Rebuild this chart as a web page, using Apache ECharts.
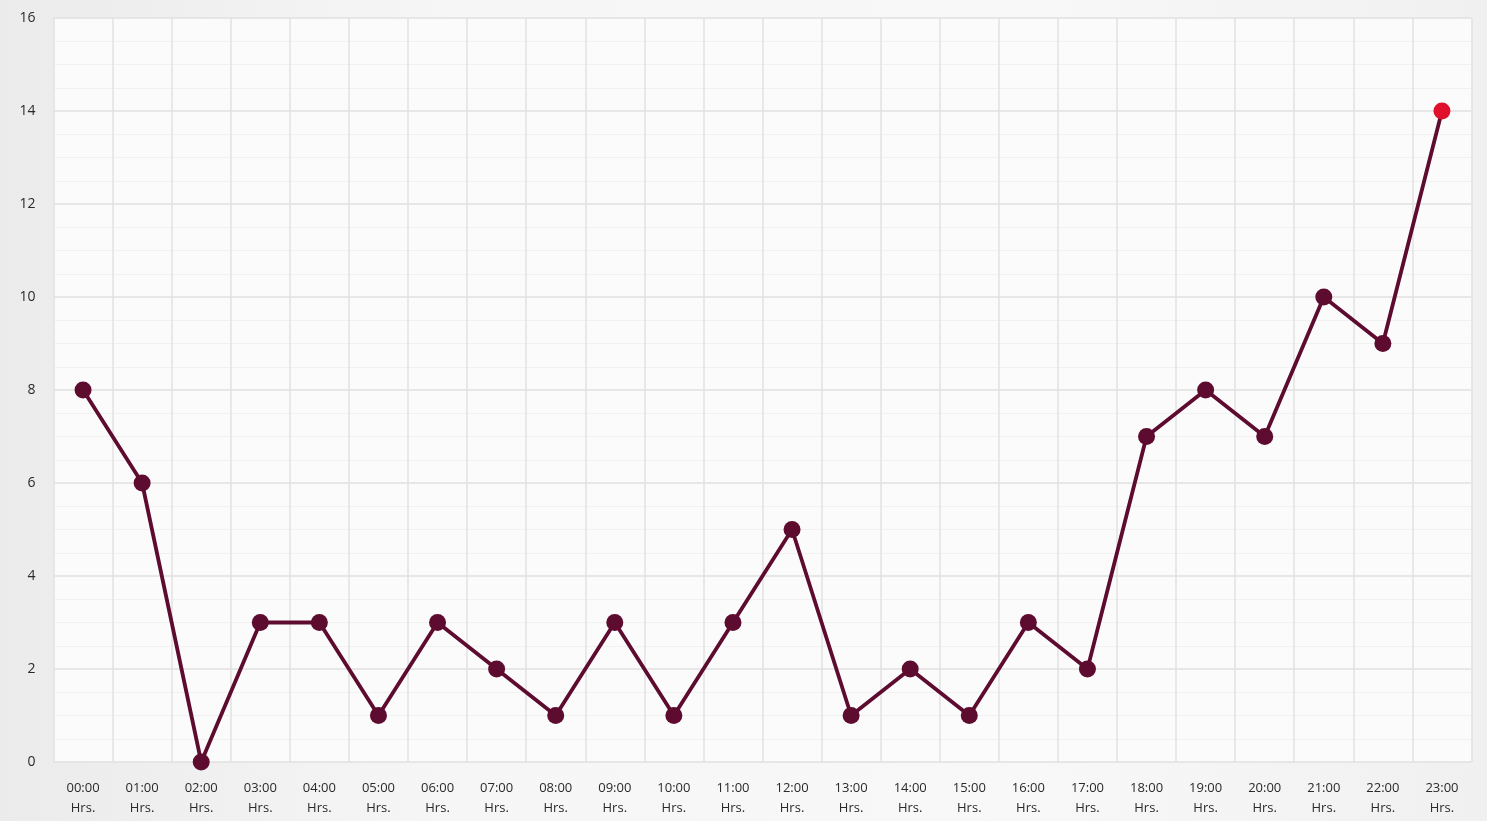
<!DOCTYPE html>
<html>
<head>
<meta charset="utf-8">
<script src="https://cdn.jsdelivr.net/npm/echarts@6/dist/echarts.min.js"></script>
<style>
html,body{margin:0;padding:0;background:#efefef;}
#chart{width:1487px;height:821px;background:linear-gradient(90deg,#ebebeb 0%,#f6f6f6 30%,#f8f8f8 70%,#f0f0f0 100%);}
</style>
</head>
<body>
<div id="chart"></div>
<script>
const hours = ['00:00','01:00','02:00','03:00','04:00','05:00','06:00','07:00','08:00','09:00','10:00','11:00','12:00','13:00','14:00','15:00','16:00','17:00','18:00','19:00','20:00','21:00','22:00','23:00'];
const categories = hours.map(h => h + '\nHrs.');
const values = [8,6,0,3,3,1,3,2,1,3,1,3,5,1,2,1,3,2,7,8,7,10,9,14];
const yTicks = [0,2,4,6,8,10,12,14,16];

const lineColor = '#5e0b30';
const lastColor = '#e0102a';

const chart = echarts.init(document.getElementById('chart'));
chart.setOption({
  backgroundColor: 'transparent',
  animation: false,
  grid: {left: 53.5, right: 15.5, top: 18, bottom: 59, show: true, backgroundColor: '#fbfbfb', borderWidth: 0},
  xAxis: {
    type: 'category',
    data: categories,
    boundaryGap: true,
    axisLine: {show: false},
    axisTick: {show: false},
    splitLine: {show: true, lineStyle: {color: '#e2e2e2', width: 1.5}},
    axisLabel: {margin: 16, color: '#2a2a2a', fontSize: 13, lineHeight: 20, fontFamily: 'Open Sans', interval: 0}
  },
  yAxis: {
    type: 'value',
    min: yTicks[0],
    max: yTicks[yTicks.length - 1],
    interval: 2,
    axisLine: {show: false},
    axisTick: {show: false},
    splitLine: {show: true, lineStyle: {color: '#e0e0e0', width: 1.5}},
    minorTick: {show: false, splitNumber: 4},
    minorSplitLine: {show: true, lineStyle: {color: '#f1f1f1', width: 1}},
    axisLabel: {margin: 18, color: '#2a2a2a', fontSize: 14, fontFamily: 'Open Sans'}
  },
  series: [{
    type: 'line',
    data: values.map((v, i) => i === values.length - 1 ? {value: v, itemStyle: {color: lastColor}} : v),
    symbol: 'circle',
    symbolSize: 17,
    lineStyle: {color: lineColor, width: 3.8},
    itemStyle: {color: lineColor},
    z: 3
  }]
});
</script>
</body>
</html>
